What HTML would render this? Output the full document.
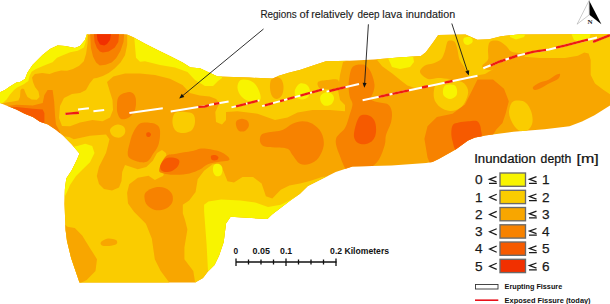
<!DOCTYPE html>
<html><head><meta charset="utf-8"><style>
html,body{margin:0;padding:0;background:#fff;width:610px;height:304px;overflow:hidden}
svg{position:absolute;left:0;top:0}
text{font-family:"Liberation Sans",sans-serif}
.tx{opacity:0.995}
</style></head><body>
<svg width="610" height="304" viewBox="0 0 610 304">
<defs><clipPath id="cl"><path d="M0.0,92.3 L4.9,89.9 L9.9,86.6 L16.4,82.5 L20.0,82.0 L25.0,79.0 L27.5,72.5 L32.5,65.0 L42.5,55.0 L50.0,49.0 L57.5,45.5 L65.0,46.0 L75.0,48.0 L80.0,46.0 L85.0,40.0 L86.9,34.3 L126.4,34.3 L133.3,37.2 L145.1,43.7 L159.0,50.7 L170.8,56.6 L182.6,62.5 L190.5,67.4 L199.9,68.2 L217.6,76.6 L249.2,77.6 L272.9,78.6 L278.8,75.7 L288.7,72.7 L300.5,69.7 L312.3,65.8 L325.9,61.3 L349.3,60.8 L374.0,59.6 L398.7,57.6 L420.9,55.9 L425.8,52.2 L433.2,42.3 L438.2,34.9 L465.5,34.5 L477.4,39.8 L489.2,39.2 L501.0,36.2 L518.8,34.5 L610.0,33.9 L610.0,105.5 L594.5,115.2 L582.0,121.5 L569.5,126.2 L544.6,129.3 L513.5,131.8 L485.0,135.5 L482.0,136.3 L475.0,137.5 L468.0,140.4 L456.0,149.3 L451.2,152.0 L438.7,158.9 L432.5,162.0 L426.2,162.9 L391.5,165.6 L352.5,166.5 L335.7,172.0 L321.8,179.0 L307.9,186.0 L300.0,193.7 L290.3,200.6 L272.0,214.4 L267.4,219.0 L230.6,216.7 L226.0,223.6 L223.7,242.0 L219.0,255.7 L214.5,265.0 L207.7,271.8 L203.0,278.0 L195.2,282.4 L79.5,282.4 L71.1,257.9 L67.0,241.0 L65.6,230.0 L64.5,204.0 L64.9,189.0 L66.3,178.4 L71.6,170.5 L76.8,160.0 L79.5,153.4 L71.6,144.2 L63.7,136.3 L55.8,129.7 L47.9,124.5 L40.0,121.8 L32.9,117.0 L24.7,113.7 L16.4,109.6 L8.2,106.3 L0.0,103.0Z"/></clipPath></defs>
<path d="M0.0,92.3 L4.9,89.9 L9.9,86.6 L16.4,82.5 L20.0,82.0 L25.0,79.0 L27.5,72.5 L32.5,65.0 L42.5,55.0 L50.0,49.0 L57.5,45.5 L65.0,46.0 L75.0,48.0 L80.0,46.0 L85.0,40.0 L86.9,34.3 L126.4,34.3 L133.3,37.2 L145.1,43.7 L159.0,50.7 L170.8,56.6 L182.6,62.5 L190.5,67.4 L199.9,68.2 L217.6,76.6 L249.2,77.6 L272.9,78.6 L278.8,75.7 L288.7,72.7 L300.5,69.7 L312.3,65.8 L325.9,61.3 L349.3,60.8 L374.0,59.6 L398.7,57.6 L420.9,55.9 L425.8,52.2 L433.2,42.3 L438.2,34.9 L465.5,34.5 L477.4,39.8 L489.2,39.2 L501.0,36.2 L518.8,34.5 L610.0,33.9 L610.0,105.5 L594.5,115.2 L582.0,121.5 L569.5,126.2 L544.6,129.3 L513.5,131.8 L485.0,135.5 L482.0,136.3 L475.0,137.5 L468.0,140.4 L456.0,149.3 L451.2,152.0 L438.7,158.9 L432.5,162.0 L426.2,162.9 L391.5,165.6 L352.5,166.5 L335.7,172.0 L321.8,179.0 L307.9,186.0 L300.0,193.7 L290.3,200.6 L272.0,214.4 L267.4,219.0 L230.6,216.7 L226.0,223.6 L223.7,242.0 L219.0,255.7 L214.5,265.0 L207.7,271.8 L203.0,278.0 L195.2,282.4 L79.5,282.4 L71.1,257.9 L67.0,241.0 L65.6,230.0 L64.5,204.0 L64.9,189.0 L66.3,178.4 L71.6,170.5 L76.8,160.0 L79.5,153.4 L71.6,144.2 L63.7,136.3 L55.8,129.7 L47.9,124.5 L40.0,121.8 L32.9,117.0 L24.7,113.7 L16.4,109.6 L8.2,106.3 L0.0,103.0Z" fill="#F8A600"/>
<g clip-path="url(#cl)">
<path fill="#FACC00" d="M-10.0,104.0 L0.0,104.0 L6.6,102.5 L13.2,101.4 L18.4,100.5 L20.0,97.0 L20.5,90.0 L22.0,88.5 L24.0,89.0 L25.5,93.0 L27.5,97.0 L31.6,99.5 L36.8,99.8 L39.5,97.0 L38.5,91.5 L35.0,87.0 L33.0,82.1 L32.0,77.5 L34.8,74.0 L42.2,73.0 L49.6,74.0 L55.0,72.0 L61.0,70.5 L67.0,70.8 L73.0,69.0 L79.2,65.8 L83.8,61.3 L86.1,53.7 L87.6,43.1 L88.3,30.0 L-10.0,30.0Z"/>
<path fill="#FACC00" d="M127.2,30.0 L350.0,30.0 L350.0,60.0 L343.0,62.0 L340.0,75.0 L338.0,90.0 L340.0,100.0 L345.0,105.0 L345.0,111.2 L330.0,110.0 L312.5,110.0 L297.5,112.5 L287.5,117.5 L275.0,120.0 L257.5,113.8 L237.5,111.2 L226.0,112.0 L226.0,120.0 L222.0,124.4 L216.0,122.0 L215.3,112.0 L219.4,103.0 L216.1,98.9 L209.6,96.4 L199.7,95.6 L189.9,93.0 L182.5,85.0 L170.0,78.8 L155.0,75.0 L140.0,73.5 L125.0,73.5 L113.3,76.5 L107.0,82.0 L110.0,92.0 L112.5,100.0 L113.0,110.0 L110.0,117.5 L102.5,121.2 L92.5,120.0 L80.0,122.5 L70.0,126.2 L62.0,126.0 L59.0,118.0 L60.0,106.0 L64.0,98.0 L72.0,94.0 L80.0,93.0 L86.0,90.0 L89.6,83.4 L93.6,78.4 L96.8,78.0 L102.8,75.9 L108.7,73.0 L114.6,68.5 L120.5,62.6 L125.0,55.2 L127.2,44.8 L127.2,34.5Z"/>
<path fill="#FACC00" d="M175.0,113.0 C177.1,111.2 182.0,111.8 185.0,112.0 C188.0,112.2 191.3,112.3 193.0,114.0 C194.7,115.7 195.2,119.3 195.0,122.0 C194.8,124.7 193.8,128.2 192.0,130.0 C190.2,131.8 186.7,132.8 184.0,133.0 C181.3,133.2 177.9,132.7 176.0,131.0 C174.1,129.3 172.7,126.0 172.5,123.0 C172.3,120.0 172.9,114.8 175.0,113.0Z"/>
<path fill="#FACC00" d="M112.0,127.0 C113.3,125.9 116.0,124.5 118.0,124.5 C120.0,124.5 122.8,125.6 124.0,127.0 C125.2,128.4 125.7,131.2 125.0,133.0 C124.3,134.8 122.0,137.0 120.0,137.5 C118.0,138.0 114.7,137.1 113.0,136.0 C111.3,134.9 110.2,132.5 110.0,131.0 C109.8,129.5 110.7,128.1 112.0,127.0Z"/>
<path fill="#FACC00" d="M40.0,128.0 L60.0,136.0 L69.2,136.9 L73.8,139.2 L90.0,135.8 L106.0,134.6 L109.5,139.2 L106.0,153.0 L99.0,166.8 L96.8,176.0 L99.0,184.0 L104.0,189.0 L112.0,190.5 L119.0,187.5 L121.5,181.0 L122.2,172.0 L125.0,165.0 L137.8,169.3 L146.3,167.1 L152.8,160.7 L157.0,153.0 L162.0,150.0 L166.0,153.0 L168.0,165.0 L163.0,176.0 L159.2,177.8 L154.9,180.0 L148.5,175.7 L137.8,177.8 L129.2,184.2 L127.1,192.8 L128.0,203.5 L134.0,211.8 L145.9,223.7 L151.8,238.5 L154.8,259.2 L160.7,271.0 L169.6,283.0 L169.6,295.0 L40.0,295.0Z"/>
<path fill="#FACC00" d="M212.6,164.3 L204.1,170.7 L197.7,179.2 L195.6,192.0 L189.2,200.5 L182.8,204.8 L182.8,213.3 L185.0,220.0 L187.4,229.6 L184.4,247.4 L184.4,259.2 L193.3,271.0 L196.3,290.0 L225.0,290.0 L330.0,230.0 L330.0,176.0 L322.0,177.0 L310.0,181.0 L300.0,183.4 L289.4,185.6 L280.8,189.8 L272.3,198.4 L265.9,196.2 L261.6,183.4 L253.0,177.0 L242.5,177.0 L234.0,182.4 L227.5,181.3 L223.3,170.7 L218.0,164.0Z"/>
<path fill="#FACC00" d="M374.0,55.0 L380.0,52.0 L436.0,30.0 L615.0,30.0 L615.0,96.0 L610.0,94.3 L603.6,90.0 L595.0,83.6 L590.7,75.0 L590.7,60.0 L588.6,53.6 L584.3,52.5 L577.9,55.7 L565.0,57.9 L540.0,58.0 L515.0,56.0 L505.0,62.0 L495.0,68.0 L485.0,74.0 L474.0,76.0 L466.0,77.0 L455.0,78.0 L440.0,82.0 L430.0,86.0 L425.2,85.6 L416.3,88.5 L407.4,85.6 L401.5,81.1 L392.6,73.7 L382.2,66.3 L376.3,58.9Z"/>
<path fill="#FACC00" d="M436.0,84.0 C438.3,81.0 443.7,80.3 448.0,80.0 C452.3,79.7 458.7,80.3 462.0,82.0 C465.3,83.7 467.3,87.0 468.0,90.0 C468.7,93.0 467.3,97.0 466.0,100.0 C464.7,103.0 462.7,106.2 460.0,108.0 C457.3,109.8 453.3,111.2 450.0,111.0 C446.7,110.8 442.7,109.2 440.0,107.0 C437.3,104.8 434.7,101.8 434.0,98.0 C433.3,94.2 433.7,87.0 436.0,84.0Z"/>
<path fill="#FACC00" d="M512.0,102.5 C513.7,100.4 516.7,100.4 519.0,100.5 C521.3,100.6 524.0,101.2 526.0,103.0 C528.0,104.8 529.9,107.8 531.0,111.0 C532.1,114.2 533.0,118.8 532.5,122.0 C532.0,125.2 530.1,128.5 528.0,130.0 C525.9,131.5 522.5,132.0 520.0,131.0 C517.5,130.0 514.8,127.0 513.0,124.0 C511.2,121.0 509.2,116.6 509.0,113.0 C508.8,109.4 510.3,104.6 512.0,102.5Z"/>
<path fill="#F8A600" d="M448.7,40.8 C450.0,40.5 453.1,40.3 454.6,41.8 C456.1,43.3 456.7,46.7 457.5,49.7 C458.3,52.7 458.4,56.6 459.5,59.6 C460.6,62.6 463.0,64.8 464.4,67.5 C465.8,70.2 468.4,73.9 468.0,76.0 C467.6,78.1 465.0,79.5 462.0,80.0 C459.0,80.5 454.0,79.3 450.0,79.0 C446.0,78.7 441.7,78.0 438.0,78.0 C434.3,78.0 431.0,80.0 428.0,79.0 C425.0,78.0 420.5,74.2 420.0,72.0 C419.5,69.8 422.9,66.9 425.0,65.5 C427.1,64.1 430.3,64.5 432.9,63.5 C435.5,62.5 438.8,61.6 440.8,59.6 C442.8,57.6 443.7,54.3 444.7,51.7 C445.7,49.1 446.0,45.6 446.7,43.8 C447.4,42.0 447.4,41.1 448.7,40.8Z"/>
<path fill="#F8A600" d="M490.0,41.8 C491.7,40.3 495.4,40.1 498.0,40.8 C500.6,41.5 503.6,44.0 505.9,45.8 C508.2,47.6 508.6,50.3 511.8,51.7 C515.0,53.1 523.6,52.6 525.0,54.0 C526.4,55.4 523.3,58.2 520.0,60.0 C516.7,61.8 510.0,63.3 505.0,65.0 C500.0,66.7 493.8,69.8 490.0,70.0 C486.2,70.2 482.5,68.1 482.2,66.4 C481.9,64.7 487.0,62.4 488.0,59.6 C489.0,56.8 487.7,52.7 488.0,49.7 C488.3,46.7 488.3,43.3 490.0,41.8Z"/>
<path fill="#F8A600" d="M276.0,77.0 C277.7,76.8 279.8,77.5 281.0,79.0 C282.2,80.5 283.3,83.3 283.5,86.0 C283.7,88.7 283.1,92.8 282.0,95.0 C280.9,97.2 278.7,98.8 277.0,99.0 C275.3,99.2 273.2,97.8 272.0,96.0 C270.8,94.2 270.2,90.7 270.0,88.0 C269.8,85.3 270.0,81.8 271.0,80.0 C272.0,78.2 274.3,77.2 276.0,77.0Z"/>
<path fill="#F8A600" d="M318.0,82.0 C319.3,80.6 324.7,80.3 328.0,80.0 C331.3,79.7 336.3,78.7 338.0,80.0 C339.7,81.3 339.3,86.5 338.0,88.0 C336.7,89.5 333.0,88.9 330.0,89.0 C327.0,89.1 322.0,89.7 320.0,88.5 C318.0,87.3 316.7,83.4 318.0,82.0Z"/>
<path fill="#F8A600" d="M60.0,220.0 L67.4,226.7 L74.8,228.1 L82.2,235.5 L89.6,247.4 L97.0,259.2 L95.5,271.0 L86.7,280.0 L80.7,283.0 L70.0,290.0 L55.0,290.0 L55.0,220.0Z"/>
<path fill="#F8A600" d="M101.0,242.0 C102.0,240.8 105.5,238.8 108.0,238.5 C110.5,238.2 114.6,239.1 116.0,240.0 C117.4,240.9 117.7,243.0 116.5,244.0 C115.3,245.0 111.4,245.8 109.0,246.0 C106.6,246.2 103.3,246.2 102.0,245.5 C100.7,244.8 100.0,243.2 101.0,242.0Z"/>
<path fill="#F8F400" d="M-10.0,104.0 L0.0,104.0 L3.3,102.5 L6.6,99.5 L10.0,94.5 L14.0,90.0 L17.1,87.5 L23.7,84.3 L28.3,81.0 L29.6,75.8 L31.6,71.8 L35.5,69.2 L40.0,67.2 L46.6,64.4 L52.5,62.2 L57.0,57.8 L61.0,56.0 L70.2,52.2 L77.7,50.7 L83.8,47.6 L85.3,43.1 L87.6,34.0 L88.0,30.0 L-10.0,30.0Z"/>
<path fill="#F8F400" d="M134.0,30.0 L134.0,34.0 L135.0,45.9 L136.0,57.7 L140.0,61.7 L145.0,61.2 L160.0,65.0 L175.0,67.5 L187.5,72.0 L195.0,80.0 L205.0,86.0 L213.0,86.0 L218.0,81.0 L222.0,78.0 L222.0,30.0Z"/>
<path fill="#F8F400" d="M240.0,80.5 C241.8,79.2 245.5,79.4 248.0,80.0 C250.5,80.6 253.1,82.0 255.0,84.0 C256.9,86.0 258.6,89.5 259.5,92.0 C260.4,94.5 261.1,97.3 260.5,99.0 C259.9,100.7 258.1,101.9 256.0,102.2 C253.9,102.5 250.5,102.0 248.0,101.0 C245.5,100.0 242.8,98.2 241.0,96.0 C239.2,93.8 237.7,90.6 237.5,88.0 C237.3,85.4 238.2,81.8 240.0,80.5Z"/>
<path fill="#F8F400" d="M300.0,83.5 C302.0,82.7 305.3,83.8 307.0,85.0 C308.7,86.2 309.8,89.0 310.0,91.0 C310.2,93.0 309.3,95.6 308.0,97.0 C306.7,98.4 304.0,99.5 302.0,99.5 C300.0,99.5 297.2,98.6 296.0,97.0 C294.8,95.4 294.3,92.2 295.0,90.0 C295.7,87.8 298.0,84.3 300.0,83.5Z"/>
<path fill="#F8F400" d="M326.0,92.3 C327.9,92.0 330.7,92.9 332.0,94.0 C333.3,95.1 334.2,97.2 334.0,99.0 C333.8,100.8 332.5,103.4 331.0,104.5 C329.5,105.6 326.7,106.1 325.0,105.7 C323.3,105.3 321.8,103.6 321.0,102.0 C320.2,100.4 319.7,97.6 320.5,96.0 C321.3,94.4 324.1,92.6 326.0,92.3Z"/>
<path fill="#F8F400" d="M388.0,58.0 L413.0,56.0 L414.0,62.0 L410.0,67.0 L400.0,69.0 L392.0,67.0Z"/>
<path fill="#F8F400" d="M464.0,38.0 C465.2,37.1 469.6,36.8 471.0,37.5 C472.4,38.2 473.0,40.8 472.5,42.0 C472.0,43.2 469.4,44.8 468.0,45.0 C466.6,45.2 464.7,44.2 464.0,43.0 C463.3,41.8 462.8,38.9 464.0,38.0Z"/>
<path fill="#F8F400" d="M510.0,33.0 L526.0,33.0 L524.0,37.0 L516.0,39.5 L510.0,37.0Z"/>
<path fill="#F8F400" d="M571.0,33.0 L591.0,33.0 L589.0,39.0 L582.0,42.5 L574.0,40.0Z"/>
<path fill="#F8F400" d="M446.0,85.0 C447.8,84.2 452.2,84.2 454.0,85.0 C455.8,85.8 456.7,88.2 457.0,90.0 C457.3,91.8 457.2,94.5 456.0,96.0 C454.8,97.5 452.0,99.0 450.0,99.0 C448.0,99.0 445.2,97.5 444.0,96.0 C442.8,94.5 442.7,91.8 443.0,90.0 C443.3,88.2 444.2,85.8 446.0,85.0Z"/>
<path fill="#F8F400" d="M55.0,150.0 L77.3,146.0 L85.3,143.8 L92.2,146.0 L94.5,153.0 L90.0,162.2 L83.0,169.0 L76.0,176.0 L70.0,185.0 L67.0,192.0 L64.0,198.0 L55.0,198.0Z"/>
<path fill="#F8F400" d="M204.1,204.8 L208.4,201.6 L221.2,199.4 L240.3,200.5 L255.3,202.6 L268.0,206.9 L280.8,204.8 L289.4,200.5 L297.9,195.2 L310.0,190.0 L240.0,240.0 L226.0,290.0 L208.0,271.0 L206.6,244.4 L204.1,211.2Z"/>
<path fill="#F8F400" d="M214.0,165.0 C215.0,163.8 217.6,163.5 219.0,164.0 C220.4,164.5 222.1,166.2 222.4,168.0 C222.7,169.8 222.1,173.7 221.0,175.0 C219.9,176.3 217.3,176.7 216.0,176.0 C214.7,175.3 213.3,172.8 213.0,171.0 C212.7,169.2 213.0,166.2 214.0,165.0Z"/>
<path fill="#F78200" d="M0.0,104.5 L6.6,106.0 L16.4,104.7 L32.9,105.5 L42.7,103.0 L44.4,94.9 L47.6,89.9 L52.6,89.9 L54.2,101.4 L55.0,115.0 L56.0,124.4 L60.0,132.0 L60.0,140.0 L-10.0,140.0 L-10.0,104.5Z"/>
<path fill="#F78200" d="M89.0,30.0 L125.0,30.0 L124.2,34.5 L123.5,41.9 L120.5,50.8 L116.1,58.2 L111.6,62.6 L105.7,64.8 L99.8,65.6 L96.1,62.6 L93.1,56.7 L90.9,47.8 L90.2,34.5Z"/>
<path fill="#F78200" d="M122.0,94.0 C124.0,93.0 127.8,91.7 130.0,92.0 C132.2,92.3 134.0,94.0 135.0,96.0 C136.0,98.0 136.2,101.3 136.0,104.0 C135.8,106.7 135.3,109.7 134.0,112.0 C132.7,114.3 130.2,116.8 128.0,118.0 C125.8,119.2 122.8,119.8 121.0,119.0 C119.2,118.2 118.2,115.3 117.5,113.0 C116.8,110.7 116.9,107.5 117.0,105.0 C117.1,102.5 117.2,99.8 118.0,98.0 C118.8,96.2 120.0,95.0 122.0,94.0Z"/>
<path fill="#F78200" d="M140.0,123.5 C143.2,121.8 148.8,122.4 152.0,123.0 C155.2,123.6 157.7,124.8 159.0,127.0 C160.3,129.2 160.2,132.8 160.0,136.0 C159.8,139.2 159.1,143.1 158.0,146.0 C156.9,148.9 155.0,151.0 153.3,153.5 C151.6,156.0 150.1,159.5 148.0,161.0 C145.9,162.5 143.8,162.6 141.0,162.3 C138.2,162.0 133.2,160.4 131.0,159.0 C128.8,157.6 127.9,156.6 127.7,154.0 C127.5,151.4 128.7,147.1 129.6,143.6 C130.5,140.1 131.3,136.3 133.0,133.0 C134.7,129.7 136.8,125.2 140.0,123.5Z"/>
<path fill="#F78200" d="M159.2,169.5 C159.6,166.7 163.0,158.9 165.8,156.3 C168.7,153.7 171.9,154.6 176.3,153.7 C180.7,152.8 187.7,151.9 192.1,151.0 C196.5,150.1 198.2,148.4 202.6,148.4 C207.0,148.4 214.2,149.7 218.4,151.0 C222.6,152.3 225.8,154.8 227.6,156.3 C229.4,157.9 230.1,159.4 229.0,160.3 C227.9,161.2 224.5,160.9 221.0,161.6 C217.5,162.2 211.4,162.9 207.9,164.2 C204.4,165.5 203.1,168.0 200.0,169.5 C196.9,171.0 193.4,172.5 189.5,173.4 C185.6,174.3 180.7,174.7 176.3,174.7 C171.9,174.7 166.0,174.3 163.2,173.4 C160.3,172.5 158.8,172.3 159.2,169.5Z"/>
<path fill="#F78200" d="M146.0,192.0 C147.8,190.2 151.8,188.2 155.0,187.5 C158.2,186.8 162.2,186.9 165.0,188.0 C167.8,189.1 170.8,191.5 172.0,194.0 C173.2,196.5 173.2,200.5 172.0,203.0 C170.8,205.5 167.8,207.8 165.0,209.0 C162.2,210.2 158.0,210.7 155.0,210.0 C152.0,209.3 148.8,207.0 147.0,205.0 C145.2,203.0 144.7,200.2 144.5,198.0 C144.3,195.8 144.2,193.8 146.0,192.0Z"/>
<path fill="#F78200" d="M236.5,121.0 C237.5,119.8 240.2,118.8 242.0,118.8 C243.8,118.8 246.4,119.8 247.5,121.0 C248.6,122.2 249.2,124.3 248.8,126.0 C248.3,127.7 246.6,130.2 245.0,131.0 C243.4,131.8 240.5,131.8 239.0,131.0 C237.5,130.2 236.7,127.7 236.2,126.0 C235.8,124.3 235.5,122.2 236.5,121.0Z"/>
<path fill="#F78200" d="M261.2,135.0 C262.5,133.5 264.0,133.3 267.5,132.5 C271.0,131.7 278.3,131.5 282.5,130.0 C286.7,128.5 289.2,125.2 292.5,123.8 C295.8,122.3 299.2,121.2 302.5,121.2 C305.8,121.2 309.4,121.9 312.5,123.8 C315.6,125.6 319.4,129.0 321.2,132.5 C323.1,136.0 324.2,140.8 323.8,145.0 C323.3,149.2 321.0,154.4 318.8,157.5 C316.5,160.6 313.1,162.7 310.0,163.8 C306.9,164.8 302.9,165.2 300.0,163.8 C297.1,162.3 294.6,157.5 292.5,155.0 C290.4,152.5 290.4,150.0 287.5,148.8 C284.6,147.5 279.0,147.9 275.0,147.5 C271.0,147.1 266.2,147.3 263.8,146.2 C261.2,145.2 260.4,143.1 260.0,141.2 C259.6,139.4 260.0,136.5 261.2,135.0Z"/>
<path fill="#F78200" d="M351.0,69.8 C352.1,66.6 353.5,66.4 355.0,65.5 C356.5,64.6 358.4,64.6 360.0,64.5 C361.6,64.4 363.2,64.2 364.7,65.0 C366.2,65.8 367.8,67.4 369.0,69.0 C370.2,70.6 371.1,72.2 372.0,74.8 C372.9,77.4 374.3,81.8 374.5,84.7 C374.7,87.6 373.9,89.7 373.3,92.1 C372.7,94.5 370.4,97.3 371.0,99.0 C371.6,100.7 374.1,101.1 377.0,102.0 C379.9,102.9 385.6,102.8 388.1,104.4 C390.6,106.0 391.3,108.8 391.8,111.8 C392.3,114.8 392.0,118.6 391.0,122.5 C390.0,126.4 387.0,131.3 386.0,135.0 C385.0,138.7 386.0,140.7 384.8,144.8 C383.6,148.9 381.5,155.6 379.0,159.5 C376.5,163.4 373.2,165.9 370.0,168.0 C366.8,170.1 363.7,171.3 360.0,172.0 C356.3,172.7 351.4,175.1 347.9,172.0 C344.4,168.9 341.0,159.1 339.0,153.6 C337.0,148.1 335.0,143.2 336.0,138.9 C337.0,134.6 342.7,132.1 345.0,128.0 C347.3,123.9 348.6,118.3 349.8,114.3 C351.1,110.3 352.5,106.9 352.5,104.0 C352.5,101.1 350.4,100.2 349.8,97.0 C349.2,93.8 348.4,89.2 348.6,84.7 C348.8,80.2 349.9,73.0 351.0,69.8Z"/>
<path fill="#F78200" d="M477.5,79.4 L493.0,79.4 L504.0,88.8 L508.8,101.3 L505.6,113.8 L502.5,123.0 L496.3,129.4 L490.0,140.0 L470.0,150.0 L440.0,170.0 L430.6,165.0 L427.5,157.5 L424.4,138.8 L427.5,126.3 L436.9,116.9 L452.5,113.8 L465.0,104.4 L471.3,91.9Z"/>
<path fill="#F78200" d="M533.0,87.0 C533.8,85.8 537.5,83.7 540.0,82.5 C542.5,81.3 545.5,81.2 548.0,80.0 C550.5,78.8 553.0,76.5 555.0,75.5 C557.0,74.5 559.5,73.4 560.0,74.0 C560.5,74.6 559.7,77.5 558.0,79.0 C556.3,80.5 552.7,81.6 550.0,83.0 C547.3,84.4 544.5,86.3 542.0,87.5 C539.5,88.7 536.5,90.1 535.0,90.0 C533.5,89.9 532.2,88.2 533.0,87.0Z"/>
<path fill="#F65A00" d="M8.0,107.5 L16.4,107.0 L32.9,108.8 L42.7,109.6 L44.4,113.0 L44.4,121.1 L44.0,130.0 L0.0,130.0 L0.0,109.0Z"/>
<path fill="#F65A00" d="M93.0,30.0 L120.0,30.0 L119.0,34.5 L118.3,41.9 L114.6,47.8 L108.7,51.5 L102.8,52.5 L99.8,51.5 L96.8,47.8 L94.6,41.9 L93.9,34.5Z"/>
<path fill="#F65A00" d="M146.5,133.0 C146.9,132.4 148.2,132.1 149.0,132.3 C149.8,132.6 151.0,133.7 151.0,134.5 C151.0,135.3 149.8,136.8 149.0,137.0 C148.2,137.2 146.9,136.7 146.5,136.0 C146.1,135.3 146.1,133.6 146.5,133.0Z"/>
<path fill="#F65A00" d="M160.5,165.0 C161.2,163.2 163.1,160.2 165.0,159.0 C166.9,157.8 169.7,157.4 172.0,157.6 C174.3,157.8 178.0,158.6 179.0,160.0 C180.0,161.4 179.2,164.2 178.0,166.0 C176.8,167.8 174.2,170.0 172.0,171.0 C169.8,172.0 166.8,172.2 165.0,172.0 C163.2,171.8 161.8,171.2 161.0,170.0 C160.2,168.8 159.8,166.8 160.5,165.0Z"/>
<path fill="#F65A00" d="M211.0,156.0 C211.5,155.2 213.8,154.8 215.0,155.0 C216.2,155.2 218.1,156.2 218.4,157.0 C218.7,157.8 218.1,159.5 217.0,160.0 C215.9,160.5 213.0,160.7 212.0,160.0 C211.0,159.3 210.5,156.8 211.0,156.0Z"/>
<path fill="#F65A00" d="M362.0,115.0 C364.0,114.5 367.8,114.8 370.0,116.0 C372.2,117.2 374.0,119.3 375.0,122.0 C376.0,124.7 376.3,129.0 376.0,132.0 C375.7,135.0 374.7,138.0 373.0,140.0 C371.3,142.0 368.5,143.5 366.0,144.0 C363.5,144.5 360.0,144.2 358.0,143.0 C356.0,141.8 354.5,139.5 354.0,137.0 C353.5,134.5 354.3,131.0 355.0,128.0 C355.7,125.0 356.8,121.2 358.0,119.0 C359.2,116.8 360.0,115.5 362.0,115.0Z"/>
<path fill="#F65A00" d="M453.0,124.8 C454.2,123.2 456.3,123.1 458.8,122.5 C461.3,121.9 465.1,121.6 468.0,121.3 C470.9,121.0 474.1,120.3 476.0,120.8 C477.9,121.3 478.8,122.7 479.6,124.2 C480.4,125.7 480.8,127.7 481.0,130.0 C481.2,132.3 482.8,135.3 481.0,138.0 C479.2,140.7 474.0,143.8 470.0,146.0 C466.0,148.2 459.9,151.8 457.0,151.0 C454.1,150.2 453.4,144.1 452.5,141.0 C451.6,137.9 451.2,135.0 451.3,132.3 C451.4,129.6 451.8,126.4 453.0,124.8Z"/>
<path fill="#F13000" d="M96.0,30.0 L112.0,30.0 L110.9,34.5 L110.0,40.0 L107.0,44.0 L104.2,45.6 L100.0,44.5 L97.5,40.0 L96.8,34.5Z"/>
</g>
<polyline fill="none" points="65.4,113.9 78.9,112.7" stroke="#fff" stroke-width="2"/>
<polyline fill="none" points="65.4,113.9 78.9,112.7" stroke="#EE1C10" stroke-width="2.4"/>
<polyline fill="none" points="78.0,109.4 88.9,108.2" stroke="#fff" stroke-width="2"/>
<polyline fill="none" points="93.4,111.2 104.2,110.0" stroke="#fff" stroke-width="2"/>
<polyline fill="none" points="129.4,113.0 162.8,108.2" stroke="#fff" stroke-width="2"/>
<polyline fill="none" points="170.7,111.4 198.3,106.9 204.8,106.6 210.1,104.7 228.6,101.4" stroke="#fff" stroke-width="2"/>
<polyline fill="none" points="198.3,106.9 204.8,106.6 209.0,105.1" stroke="#EE1C10" stroke-width="2.4"/>
<polyline fill="none" points="214.0,104.0 219.3,103.1" stroke="#EE1C10" stroke-width="2.4"/>
<polyline fill="none" points="231.5,107.4 259.4,100.4" stroke="#fff" stroke-width="2"/>
<polyline fill="none" points="236.0,106.3 246.0,103.8" stroke="#EE1C10" stroke-width="2.4"/>
<polyline fill="none" points="247.5,103.4 257.6,100.9" stroke="#EE1C10" stroke-width="2.4"/>
<polyline fill="none" points="262.1,106.1 323.9,89.1" stroke="#fff" stroke-width="2"/>
<polyline fill="none" points="264.8,105.4 273.0,103.1" stroke="#EE1C10" stroke-width="2.4"/>
<polyline fill="none" points="280.0,101.2 284.0,100.1" stroke="#EE1C10" stroke-width="2.4"/>
<polyline fill="none" points="287.4,99.1 294.6,97.2" stroke="#EE1C10" stroke-width="2.4"/>
<polyline fill="none" points="300.4,95.6 310.0,92.9" stroke="#EE1C10" stroke-width="2.4"/>
<polyline fill="none" points="312.0,92.4 322.0,89.6" stroke="#EE1C10" stroke-width="2.4"/>
<polyline fill="none" points="326.6,91.6 359.0,84.0" stroke="#fff" stroke-width="2"/>
<polyline fill="none" points="329.3,91.0 345.5,87.2" stroke="#EE1C10" stroke-width="2.4"/>
<polyline fill="none" points="362.6,100.2 477.5,75.7" stroke="#fff" stroke-width="2"/>
<polyline fill="none" points="378.7,96.8 389.5,94.5" stroke="#EE1C10" stroke-width="2.4"/>
<polyline fill="none" points="392.5,93.8 409.0,90.3" stroke="#EE1C10" stroke-width="2.4"/>
<polyline fill="none" points="422.0,87.5 428.0,86.3" stroke="#EE1C10" stroke-width="2.4"/>
<polyline fill="none" points="444.6,82.7 452.5,81.0" stroke="#EE1C10" stroke-width="2.4"/>
<polyline fill="none" points="483.3,68.3 500.0,61.5 516.4,56.0 532.8,51.9 549.2,49.4 565.6,45.3 582.0,41.2 597.0,37.5" stroke="#fff" stroke-width="2"/>
<polyline fill="none" points="490.7,65.3 500.0,61.5 505.5,59.7" stroke="#EE1C10" stroke-width="2.4"/>
<polyline fill="none" points="509.0,58.5 516.4,56.0 517.4,55.8" stroke="#EE1C10" stroke-width="2.4"/>
<polyline fill="none" points="525.0,53.8 532.8,51.9 546.0,49.9" stroke="#EE1C10" stroke-width="2.4"/>
<polyline fill="none" points="556.0,47.7 565.6,45.3 582.0,41.2 588.0,39.7" stroke="#EE1C10" stroke-width="2.4"/>
<polyline fill="none" points="593.0,41.8 610.0,35.2" stroke="#fff" stroke-width="2"/>
<polyline fill="none" points="593.0,41.8 610.0,35.2" stroke="#EE1C10" stroke-width="2.4"/>
<g class="tx"><!-- annotation -->
<g font-size="10.2" fill="#1a1a1a" stroke="#1a1a1a" stroke-width="0.12"><text x="260.4" y="17.5" textLength="36.3" lengthAdjust="spacingAndGlyphs">Regions</text><text x="299.5" y="17.5" textLength="9.3" lengthAdjust="spacingAndGlyphs">of</text><text x="311.2" y="17.5" textLength="42.3" lengthAdjust="spacingAndGlyphs">relatively</text><text x="357.5" y="17.5" textLength="22.0" lengthAdjust="spacingAndGlyphs">deep</text><text x="382.3" y="17.5" textLength="19.9" lengthAdjust="spacingAndGlyphs">lava</text><text x="405.7" y="17.5" textLength="49.5" lengthAdjust="spacingAndGlyphs">inundation</text></g>
<g stroke="#1a1a1a" stroke-width="0.9" fill="none">
<line x1="263.5" y1="29.0" x2="182.3" y2="96.0"/>
<line x1="368.4" y1="24.3" x2="364.6" y2="83.8"/>
<line x1="451.8" y1="23.5" x2="467.6" y2="71.8"/>
</g>
<path fill="#111" d="M179.2,98.5 L181.8,93.8 L184.3,96.9 Z M364.3,87.8 L362.6,82.7 L366.6,82.9 Z M468.8,75.6 L465.3,71.5 L469.2,70.2 Z"/>
<!-- legend -->
<g font-size="12" fill="#111" stroke="#111" stroke-width="0.22"><text x="474.2" y="163" textLength="61.6" lengthAdjust="spacingAndGlyphs">Inundation</text><text x="540.6" y="163" textLength="30.6" lengthAdjust="spacingAndGlyphs">depth</text><text x="576.6" y="163" textLength="22.2" lengthAdjust="spacingAndGlyphs">[m]</text></g>
<g stroke="#6a6a6a" stroke-width="1.35">
<rect x="500" y="173" width="25.5" height="13.3" fill="#F8F400"/>
<rect x="500" y="190.3" width="25.5" height="13.3" fill="#FACC00"/>
<rect x="500" y="207.5" width="25.5" height="13.3" fill="#F8A600"/>
<rect x="500" y="224.8" width="25.5" height="13.3" fill="#F78200"/>
<rect x="500" y="242" width="25.5" height="13.3" fill="#F65A00"/>
<rect x="500" y="259.3" width="25.5" height="13.3" fill="#F13000"/>
</g>
<g font-size="13.6" fill="#1a1a1a" stroke="#1a1a1a" stroke-width="0.25">
<text x="475" y="184.3">0</text><text x="541.9" y="184.3">1</text>
<text x="475" y="201.6">1</text><text x="541.9" y="201.6">2</text>
<text x="475" y="218.8">2</text><text x="541.9" y="218.8">3</text>
<text x="475" y="236.1">3</text><text x="541.9" y="236.1">4</text>
<text x="475" y="253.4">4</text><text x="541.9" y="253.4">5</text>
<text x="475" y="270.6">5</text><text x="541.9" y="270.6">6</text>
</g>
<path fill="none" stroke="#1a1a1a" stroke-width="1.25" d="M496.5,176.7 L489.4,179.3 L496.5,181.9 M489.0,183.4 L496.8,183.4 M536.5,176.7 L529.4,179.3 L536.5,181.9 M529.0,183.4 L536.8,183.4 M496.7,194.2 L489.6,197.3 L496.7,200.4 M536.5,194.0 L529.4,196.6 L536.5,199.2 M529.0,200.7 L536.8,200.7 M496.7,211.4 L489.6,214.5 L496.7,217.6 M536.5,211.2 L529.4,213.8 L536.5,216.4 M529.0,217.9 L536.8,217.9 M496.7,228.7 L489.6,231.8 L496.7,234.9 M536.5,228.5 L529.4,231.1 L536.5,233.7 M529.0,235.2 L536.8,235.2 M496.7,246.0 L489.6,249.1 L496.7,252.2 M536.5,245.8 L529.4,248.4 L536.5,251.0 M529.0,252.5 L536.8,252.5 M496.7,263.2 L489.6,266.3 L496.7,269.4 M536.5,263.0 L529.4,265.6 L536.5,268.2 M529.0,269.8 L536.8,269.8"/>
<rect x="475.5" y="284.5" width="22.5" height="4.5" fill="#fff" stroke="#333" stroke-width="0.9"/>
<line x1="475" y1="300.2" x2="498.3" y2="300.2" stroke="#E8101A" stroke-width="1.6"/>
<g font-size="7.6" font-weight="bold" fill="#111">
<text x="504.6" y="289.2" textLength="57.6" lengthAdjust="spacingAndGlyphs">Erupting Fissure</text>
<text x="504.6" y="302.7" textLength="86" lengthAdjust="spacingAndGlyphs">Exposed Fissure (today)</text>
</g>
<!-- scale bar -->
<g font-size="8.3" font-weight="bold" fill="#111">
<text x="233.6" y="254">0</text>
<text x="252.5" y="254" textLength="17.4" lengthAdjust="spacingAndGlyphs">0.05</text>
<text x="280" y="254" textLength="12.2" lengthAdjust="spacingAndGlyphs">0.1</text>
<text x="330.1" y="254" textLength="59" lengthAdjust="spacingAndGlyphs">0.2 Kilometers</text>
</g>
<g stroke="#111" stroke-width="1.3">
<line x1="236" y1="262" x2="336.5" y2="262"/>
<line x1="236" y1="258.5" x2="236" y2="266"/>
<line x1="248.5" y1="259.5" x2="248.5" y2="264.5"/>
<line x1="261" y1="259.5" x2="261" y2="264.5"/>
<line x1="273.5" y1="259.5" x2="273.5" y2="264.5"/>
<line x1="286" y1="258.5" x2="286" y2="266"/>
<line x1="298.5" y1="259.5" x2="298.5" y2="264.5"/>
<line x1="311" y1="259.5" x2="311" y2="264.5"/>
<line x1="323.5" y1="259.5" x2="323.5" y2="264.5"/>
<line x1="336" y1="258.5" x2="336" y2="266"/>
</g>
<!-- north arrow -->
<path d="M589.1,0.5 L601.4,24.2 L589.3,14.8Z" fill="#000"/>
<path d="M589.1,0.5 L577.1,24.2 L589.3,14.8Z" fill="#fff" stroke="#999" stroke-width="0.5"/>
<text x="587.5" y="24.3" style="font-family:'Liberation Serif',serif;font-size:7px;font-weight:bold" fill="#222">N</text>
</g>
</svg>
</body></html>
